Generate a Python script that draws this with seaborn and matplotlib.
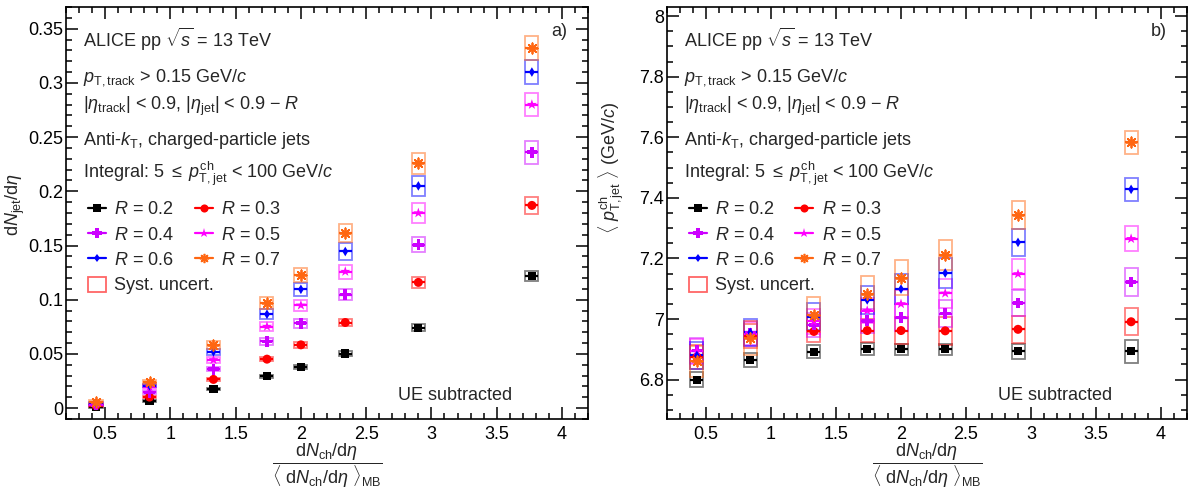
import numpy as np
import pandas as pd
import matplotlib
matplotlib.use('Agg')
import matplotlib.pyplot as plt
from matplotlib.lines import Line2D
from matplotlib.patches import Rectangle
from matplotlib.ticker import MultipleLocator, FuncFormatter
import seaborn as sns

# normalised charged-particle multiplicity of each class
mult = [0.43, 0.84, 1.33, 1.74, 2.00, 2.34, 2.90, 3.77]
radii = ['0.2', '0.3', '0.4', '0.5', '0.6', '0.7']

# a) dNjet/deta per jet radius
yield_r02 = [0.001, 0.0065, 0.0173, 0.0293, 0.0378, 0.0504, 0.0743, 0.122]
yield_r03 = [0.0023, 0.0102, 0.0265, 0.0452, 0.0584, 0.079, 0.116, 0.187]
yield_r04 = [0.003, 0.0145, 0.036, 0.0615, 0.0783, 0.1047, 0.1507, 0.236]
yield_r05 = [0.004, 0.0194, 0.0446, 0.0753, 0.0949, 0.126, 0.180, 0.280]
yield_r06 = [0.0045, 0.0207, 0.052, 0.0866, 0.1096, 0.1445, 0.205, 0.310]
yield_r07 = [0.006, 0.024, 0.0584, 0.097, 0.1228, 0.1615, 0.2258, 0.332]

yield_sys_r02 = [0.0006, 0.0008, 0.001, 0.0015, 0.0018, 0.0022, 0.003, 0.0046]
yield_sys_r03 = [0.0008, 0.001, 0.0015, 0.002, 0.0025, 0.0035, 0.0052, 0.008]
yield_sys_r04 = [0.001, 0.0012, 0.002, 0.003, 0.004, 0.005, 0.007, 0.0107]
yield_sys_r05 = [0.001, 0.0015, 0.0025, 0.004, 0.005, 0.0065, 0.0089, 0.0107]
yield_sys_r06 = [0.001, 0.0015, 0.003, 0.0045, 0.0058, 0.0075, 0.0095, 0.011]
yield_sys_r07 = [0.0012, 0.0018, 0.0035, 0.0057, 0.0065, 0.0085, 0.0097, 0.011]

# b) mean jet pT per jet radius
mpt_r02 = [6.800, 6.865, 6.892, 6.900, 6.900, 6.900, 6.893, 6.893]
mpt_r03 = [6.875, 6.943, 6.959, 6.962, 6.962, 6.961, 6.966, 6.991]
mpt_r04 = [6.896, 6.953, 6.981, 6.994, 7.005, 7.018, 7.053, 7.122]
mpt_r05 = [6.893, 6.950, 6.992, 7.028, 7.050, 7.085, 7.149, 7.265]
mpt_r06 = [6.880, 6.956, 7.008, 7.063, 7.099, 7.152, 7.253, 7.428]
mpt_r07 = [6.860, 6.937, 7.014, 7.083, 7.137, 7.211, 7.343, 7.583]

mpt_sys_r02 = [0.025, 0.022, 0.021, 0.020, 0.019, 0.019, 0.026, 0.037]
mpt_sys_r03 = [0.040, 0.040, 0.036, 0.037, 0.045, 0.047, 0.045, 0.044]
mpt_sys_r04 = [0.040, 0.040, 0.040, 0.040, 0.045, 0.045, 0.044, 0.046]
mpt_sys_r05 = [0.040, 0.040, 0.040, 0.040, 0.045, 0.048, 0.049, 0.041]
mpt_sys_r06 = [0.045, 0.045, 0.045, 0.047, 0.048, 0.050, 0.045, 0.039]
mpt_sys_r07 = [0.050, 0.057, 0.058, 0.058, 0.057, 0.050, 0.047, 0.039]

yields = [yield_r02, yield_r03, yield_r04, yield_r05, yield_r06, yield_r07]
yields_sys = [yield_sys_r02, yield_sys_r03, yield_sys_r04, yield_sys_r05, yield_sys_r06, yield_sys_r07]
mpts = [mpt_r02, mpt_r03, mpt_r04, mpt_r05, mpt_r06, mpt_r07]
mpts_sys = [mpt_sys_r02, mpt_sys_r03, mpt_sys_r04, mpt_sys_r05, mpt_sys_r06, mpt_sys_r07]

colors = ['#000000', '#ff0000', '#cc00ff', '#ff00ff', '#0000ff', '#ff6611']
markers = ['s', 'o', 'P', '*', 'd', (8, 2, 0)]
sizes = [34, 42, 60, 60, 24, 55]
half_width = 0.05

sns.set_theme(style='ticks')
plt.rcParams['font.family'] = ['Liberation Sans', 'DejaVu Sans']
plt.rcParams['mathtext.fontset'] = 'custom'
plt.rcParams['mathtext.rm'] = 'Liberation Sans'
plt.rcParams['mathtext.it'] = 'Liberation Sans:italic'
plt.rcParams['mathtext.bf'] = 'Liberation Sans:bold'

fig = plt.figure(figsize=(11.96, 4.97), dpi=100)
ax_a = fig.add_axes([66 / 1196, 1 - 419 / 497, 522 / 1196, 412 / 497])
ax_b = fig.add_axes([667 / 1196, 1 - 419 / 497, 520 / 1196, 412 / 497])

fs = 13


def legend_handle(i):
    line_art = markers[i] == (8, 2, 0)
    return Line2D([], [], color=colors[i], marker=markers[i],
                  markersize=np.sqrt(sizes[i]) * 0.9, lw=1.6,
                  markeredgewidth=1.2 if line_art else 0)


def draw_panel(ax, values, sys_values):
    for i, r in enumerate(radii):
        df = pd.DataFrame({'x': mult, 'y': values[i], 'sys': sys_values[i]})
        ax.bar(df['x'], 2 * df['sys'], bottom=df['y'] - df['sys'], width=2 * half_width,
               fill=False, edgecolor=colors[i], alpha=0.5, linewidth=1.3, zorder=2)
        ax.errorbar(df['x'], df['y'], xerr=half_width, fmt='none', ecolor=colors[i],
                    elinewidth=1.6, zorder=3)
        line_art = markers[i] == (8, 2, 0)
        sns.scatterplot(data=df, x='x', y='y', ax=ax, marker=markers[i], s=sizes[i],
                        color=colors[i], edgecolor=colors[i] if line_art else 'none',
                        linewidth=1.3 if line_art else 0, zorder=4, legend=False)

    ax.set_xlim(0.2, 4.2)
    ax.xaxis.set_major_locator(MultipleLocator(0.5))
    ax.xaxis.set_minor_locator(MultipleLocator(0.1))
    ax.xaxis.set_major_formatter(FuncFormatter(lambda v, p: f'{v:g}'))
    ax.yaxis.set_major_formatter(FuncFormatter(lambda v, p: f'{v:g}'))
    ax.tick_params(which='both', direction='in', top=True, right=True, width=1.1,
                   labelsize=fs, color='black', labelcolor='black')
    ax.tick_params(which='major', length=8.5)
    ax.tick_params(which='minor', length=4.3)
    ax.tick_params(axis='x', pad=5)
    ax.tick_params(axis='y', pad=2)
    for s in ax.spines.values():
        s.set_linewidth(1.2)
        s.set_color('black')

    ax.set_xlabel(r'$\dfrac{{\rm d}N_{\rm ch}/{\rm d}\eta}{\langle\ {\rm d}N_{\rm ch}/{\rm d}\eta\ \rangle_{\rm MB}}$',
                  fontsize=fs, va='top')
    ax.xaxis.set_label_coords(0.5, -0.056)

    lines = [
        (0.904, r'ALICE pp $\sqrt{s}$ = 13 TeV'),
        (0.819, r'$p_{\rm T,track}$ > 0.15 GeV/$c$'),
        (0.750, r'$|\eta_{\rm track}|$ < 0.9, $|\eta_{\rm jet}|$ < 0.9 $-$ $R$'),
        (0.665, r'Anti-$k_{\rm T}$, charged-particle jets'),
        (0.586, r'Integral: 5 $\leq$ $p^{\rm ch}_{\rm T,jet}$ < 100 GeV/$c$'),
    ]
    for y, t in lines:
        ax.text(0.033, y, t, transform=ax.transAxes, fontsize=fs, va='baseline', ha='left')
    ax.text(0.636, 0.046, 'UE subtracted', transform=ax.transAxes, fontsize=fs,
            va='baseline', ha='left')

    # first column: R = 0.2, 0.4, 0.6 and the systematic box
    h1 = [legend_handle(i) for i in (0, 2, 4)]
    l1 = [f'$R$ = {radii[i]}' for i in (0, 2, 4)]
    h1.append(Rectangle((0, 0), 1, 1, fill=False, edgecolor='#ff0000', alpha=0.6, lw=1.3))
    l1.append('Syst. uncert.')
    leg1 = ax.legend(h1, l1, loc='upper left', bbox_to_anchor=(0.042, 0.53),
                     frameon=False, fontsize=fs, handlelength=1.0, handleheight=0.9,
                     handletextpad=0.45, labelspacing=0.42, borderpad=0, borderaxespad=0)
    ax.add_artist(leg1)
    # second column: R = 0.3, 0.5, 0.7
    h2 = [legend_handle(i) for i in (1, 3, 5)]
    l2 = [f'$R$ = {radii[i]}' for i in (1, 3, 5)]
    ax.legend(h2, l2, loc='upper left', bbox_to_anchor=(0.247, 0.53),
              frameon=False, fontsize=fs, handlelength=1.0, handleheight=0.9,
              handletextpad=0.45, labelspacing=0.42, borderpad=0, borderaxespad=0)


draw_panel(ax_a, yields, yields_sys)
ax_a.set_ylim(-0.01, 0.37)
ax_a.yaxis.set_major_locator(MultipleLocator(0.05))
ax_a.yaxis.set_minor_locator(MultipleLocator(0.01))
ax_a.set_ylabel(r'd$N_{\rm jet}$/d$\eta$', fontsize=fs)
ax_a.yaxis.set_label_coords(-0.075, 0.52)
ax_a.text(0.961, 0.94, 'a)', transform=ax_a.transAxes, fontsize=fs, ha='right', va='center')

draw_panel(ax_b, mpts, mpts_sys)
ax_b.set_ylim(6.67, 8.03)
ax_b.yaxis.set_major_locator(MultipleLocator(0.2))
ax_b.yaxis.set_minor_locator(MultipleLocator(0.05))
ax_b.set_ylabel(r'$\langle\ p^{\rm ch}_{\rm T,jet}\ \rangle$ (GeV/$c$)', fontsize=fs)
ax_b.yaxis.set_label_coords(-0.078, 0.61)
ax_b.text(0.961, 0.94, 'b)', transform=ax_b.transAxes, fontsize=fs, ha='right', va='center')

fig.savefig('out.png', dpi=100, facecolor='white')
